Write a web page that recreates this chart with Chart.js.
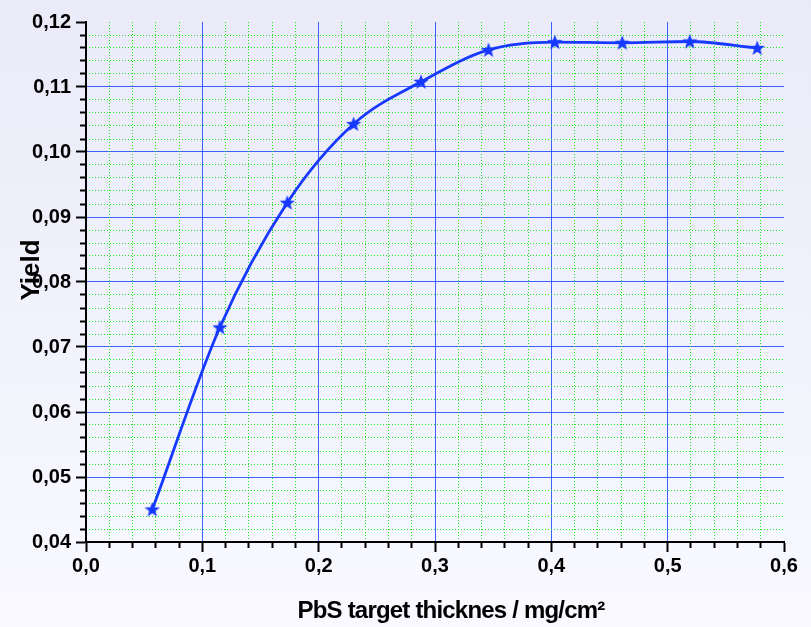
<!DOCTYPE html>
<html>
<head>
<meta charset="utf-8">
<script src="https://cdn.jsdelivr.net/npm/chart.js@4.4.1/dist/chart.umd.min.js"></script>
<style>
  html, body { margin: 0; padding: 0; }
  body {
    width: 811px; height: 627px; overflow: hidden;
    background: linear-gradient(to bottom, #eaeaf9 0%, #f9f9ff 100%);
  }
  canvas { display: block; }
</style>
</head>
<body>
<canvas id="chart" width="811" height="627"></canvas>
<script>
// Target thickness (mg/cm²) and measured yield
const thickness   = [0.057, 0.115, 0.173, 0.230, 0.288, 0.346, 0.403, 0.461, 0.519, 0.577];
const yieldValues = [0.0450, 0.0730, 0.0922, 0.1043, 0.1108, 0.1157, 0.1169, 0.1168, 0.1170, 0.1160];

// Axis ticks
const xTickValues = [0.0, 0.1, 0.2, 0.3, 0.4, 0.5, 0.6];
const yTickValues = [0.04, 0.05, 0.06, 0.07, 0.08, 0.09, 0.10, 0.11, 0.12];
const xMinorStep = 0.02;
const yMinorStep = 0.002;

const xTitle = 'PbS target thicknes / mg/cm²';
const yTitle = 'Yield';

const LINE_BLUE = '#1638ff';
const MAJOR_GRID = 'rgba(30, 70, 255, 0.85)';
const MINOR_GRID = '#1ee61e';
const FONT_FAMILY = '"Liberation Sans", Arial, Helvetica, sans-serif';

const xMin = xTickValues[0], xMax = xTickValues[xTickValues.length - 1];
const yMin = yTickValues[0], yMax = yTickValues[yTickValues.length - 1];
const xMajorStep = xTickValues[1] - xTickValues[0];
const yMajorStep = yTickValues[1] - yTickValues[0];

function onStep(v, step) {
  const r = v / step;
  return Math.abs(r - Math.round(r)) < 1e-6;
}
function stepTicks(min, max, step) {
  const n = Math.round((max - min) / step);
  return Array.from({ length: n + 1 }, (_, i) => ({ value: +(min + i * step).toFixed(6) }));
}

// Filled five-pointed star used as the point marker
function makeStar(size, color) {
  const c = document.createElement('canvas');
  c.width = size; c.height = size;
  const g = c.getContext('2d');
  const cx = size / 2, cy = size / 2 + 0.5, R = size / 2, r = R * 0.42;
  g.beginPath();
  for (let i = 0; i < 10; i++) {
    const rad = i % 2 === 0 ? R : r;
    const a = -Math.PI / 2 + i * Math.PI / 5;
    const px = cx + rad * Math.cos(a), py = cy + rad * Math.sin(a);
    if (i === 0) g.moveTo(px, py); else g.lineTo(px, py);
  }
  g.closePath();
  g.fillStyle = color;
  g.fill();
  return c;
}
const starMarker = makeStar(16, LINE_BLUE);

// Axis titles drawn beside the plot frame
const axisTitles = {
  id: 'axisTitles',
  afterDraw(chart) {
    const { ctx, chartArea: a } = chart;
    ctx.save();
    ctx.fillStyle = '#000';
    ctx.textAlign = 'center';
    ctx.textBaseline = 'alphabetic';
    ctx.font = 'bold 24px ' + FONT_FAMILY;
    if ('letterSpacing' in ctx) ctx.letterSpacing = '-0.8px';
    ctx.fillText(xTitle, (a.left + a.right) / 2 + 16, a.bottom + 76);
    if ('letterSpacing' in ctx) ctx.letterSpacing = '0px';
    ctx.font = 'bold 26px ' + FONT_FAMILY;
    ctx.translate(a.left - 47, (a.top + a.bottom) / 2 - 12);
    ctx.rotate(-Math.PI / 2);
    ctx.fillText(yTitle, 0, 0);
    ctx.restore();
  }
};

const tickFont = { family: FONT_FAMILY, size: 20, weight: 'bold' };

new Chart(document.getElementById('chart'), {
  type: 'line',
  data: {
    datasets: [{
      data: thickness.map((x, i) => ({ x, y: yieldValues[i] })),
      borderColor: LINE_BLUE,
      backgroundColor: LINE_BLUE,
      borderWidth: 2.8,
      cubicInterpolationMode: 'monotone',
      pointStyle: starMarker,
      pointRadius: 8,
      fill: false,
      clip: false,
      xAxisID: 'x',
      yAxisID: 'y'
    }]
  },
  options: {
    responsive: false,
    animation: false,
    events: [],
    layout: { padding: { top: 22, right: 27, left: 0, bottom: 0 } },
    plugins: { legend: { display: false }, tooltip: { enabled: false } },
    scales: {
      x: {
        type: 'linear', position: 'bottom', min: xMin, max: xMax,
        afterBuildTicks: s => { s.ticks = xTickValues.map(v => ({ value: v })); },
        afterFit: s => { s.height = 85; },
        ticks: {
          font: tickFont, color: '#000', padding: 2, autoSkip: false, maxRotation: 0,
          callback: v => Number(v).toFixed(1).replace('.', ',')
        },
        grid: {
          color: c => (c.tick && c.tick.value > xMin + 1e-9 && c.tick.value < xMax - 1e-9) ? MAJOR_GRID : 'transparent',
          lineWidth: 1, tickColor: '#000', tickWidth: 2, tickLength: 10
        },
        border: { display: true, color: '#000', width: 2 }
      },
      y: {
        type: 'linear', position: 'left', min: yMin, max: yMax,
        afterBuildTicks: s => { s.ticks = yTickValues.map(v => ({ value: v })); },
        afterFit: s => { s.width = 86; },
        ticks: {
          font: tickFont, color: '#000', padding: 5, autoSkip: false,
          callback: v => Number(v).toFixed(2).replace('.', ',')
        },
        grid: {
          color: c => (c.tick && c.tick.value > yMin + 1e-9 && c.tick.value < yMax - 1e-9) ? MAJOR_GRID : 'transparent',
          lineWidth: 1, tickColor: '#000', tickWidth: 2, tickLength: 10
        },
        border: { display: true, color: '#000', width: 2 }
      },
      xMinor: {
        type: 'linear', axis: 'x', position: { y: yMin }, min: xMin, max: xMax,
        afterBuildTicks: s => { s.ticks = stepTicks(xMin, xMax, xMinorStep); },
        ticks: { display: false },
        grid: {
          color: c => (c.tick && !onStep(c.tick.value, xMajorStep)) ? MINOR_GRID : 'transparent',
          tickColor: c => (c.tick && !onStep(c.tick.value, xMajorStep)) ? '#000' : 'transparent',
          lineWidth: 1, tickWidth: 2, tickLength: 6
        },
        border: { display: false, dash: [1, 2] }
      },
      yMinor: {
        type: 'linear', axis: 'y', position: { x: xMin }, min: yMin, max: yMax,
        afterBuildTicks: s => { s.ticks = stepTicks(yMin, yMax, yMinorStep); },
        ticks: { display: false },
        grid: {
          color: c => (c.tick && !onStep(c.tick.value, yMajorStep)) ? MINOR_GRID : 'transparent',
          tickColor: c => (c.tick && !onStep(c.tick.value, yMajorStep)) ? '#000' : 'transparent',
          lineWidth: 1, tickWidth: 2, tickLength: 6
        },
        border: { display: false, dash: [1, 2] }
      }
    }
  },
  plugins: [axisTitles]
});
</script>
</body>
</html>
